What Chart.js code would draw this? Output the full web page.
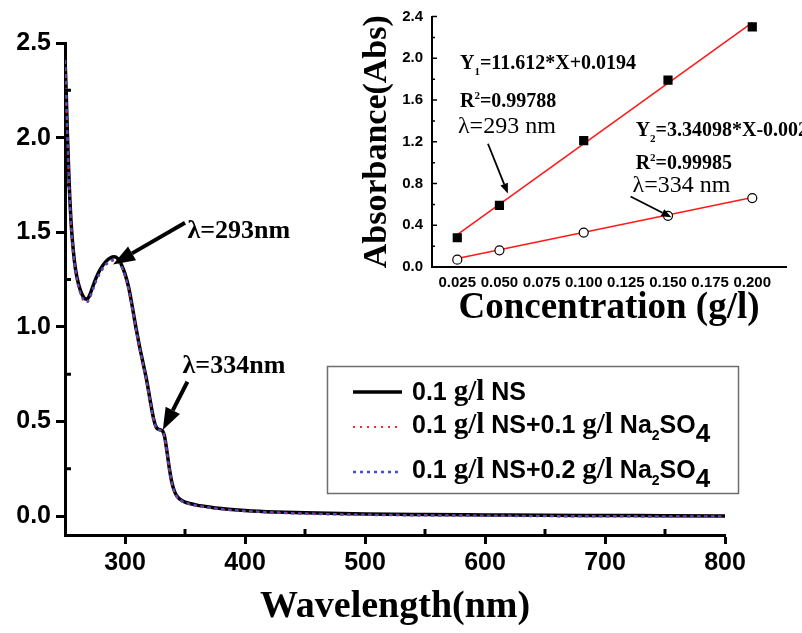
<!DOCTYPE html>
<html>
<head>
<meta charset="utf-8">
<script src="https://cdn.jsdelivr.net/npm/chart.js@4.4.1/dist/chart.umd.min.js"></script>
<style>
  html, body { margin: 0; padding: 0; background: #fff; }
  #wrap { position: relative; width: 802px; height: 633px; overflow: hidden; background: #fff; }
  #main { position: absolute; left: 0; top: 0; }
  #inset { position: absolute; left: 360px; top: 10px; }
</style>
</head>
<body>
<div id="wrap">
  <canvas id="main" width="802" height="633"></canvas>
  <canvas id="inset" width="442" height="322"></canvas>
</div>
<script>
// ---- UV-Vis spectra (absorbance vs wavelength) ----
const wavelength = [250,251,252,253,254,255,256,258,260,263,266,268,270,273,276,280,284,288,291,294,297,300,303,306,309,312,315,318,321,324,326,328,331,333,335,337,339,341,343,346,350,355,360,370,380,400,425,450,500,550,600,650,700,750,800];
const absNS = [2.42,2.24,2.02,1.84,1.68,1.56,1.47,1.34,1.26,1.19,1.152,1.146,1.16,1.21,1.26,1.31,1.345,1.365,1.37,1.36,1.33,1.28,1.21,1.11,1.00,0.90,0.81,0.72,0.61,0.51,0.47,0.458,0.452,0.42,0.34,0.25,0.18,0.135,0.108,0.088,0.074,0.065,0.058,0.048,0.040,0.030,0.022,0.017,0.011,0.008,0.006,0.004,0.003,0.002,0.001];
const absNSNa01 = [2.40,2.22,2.00,1.82,1.67,1.55,1.46,1.33,1.25,1.17,1.135,1.128,1.14,1.19,1.24,1.29,1.325,1.345,1.35,1.345,1.32,1.27,1.20,1.10,0.99,0.89,0.80,0.71,0.60,0.505,0.465,0.455,0.448,0.415,0.335,0.245,0.175,0.13,0.104,0.084,0.070,0.061,0.054,0.044,0.036,0.026,0.018,0.013,0.007,0.004,0.002,0.000,-0.001,-0.002,-0.003];
const absNSNa02 = [2.41,2.23,2.01,1.83,1.67,1.55,1.46,1.33,1.25,1.175,1.14,1.132,1.145,1.195,1.245,1.295,1.33,1.35,1.355,1.35,1.32,1.27,1.20,1.10,0.995,0.895,0.805,0.715,0.605,0.507,0.467,0.456,0.449,0.417,0.337,0.247,0.177,0.131,0.105,0.085,0.071,0.062,0.055,0.045,0.037,0.027,0.019,0.013,0.007,0.004,0.002,0.000,-0.001,-0.002,-0.003];
const seriesNames = ['0.1 g/l NS', '0.1 g/l NS+0.1 g/l Na2SO4', '0.1 g/l NS+0.2 g/l Na2SO4'];
const xTicksMain = [300,400,500,600,700,800];
const xMinorMain = [350,450,550,650,750];
const yTicksMain = [0,0.5,1,1.5,2,2.5];
const yMinorMain = [0.25,0.75,1.25,1.75,2.25];

// ---- calibration (absorbance vs concentration) ----
const concentration = [0.025,0.05,0.1,0.15,0.2];
const abs293 = [0.28,0.59,1.21,1.79,2.30];
const abs334 = [0.07,0.16,0.33,0.49,0.66];
const fit293 = { slope: 11.612, intercept: 0.0194 };
const fit334 = { slope: 3.34098, intercept: -0.002 };
const xTicksInset = [0.025,0.05,0.075,0.1,0.125,0.15,0.175,0.2];
const yTicksInset = [0,0.4,0.8,1.2,1.6,2.0,2.4];
const yMinorInset = [0.2,0.6,1.0,1.4,1.8,2.2];

const SANS = 'Liberation Sans, Arial, sans-serif';
const SERIF = 'Liberation Serif, Times New Roman, serif';

function pairs(xs, ys) { return xs.map((x, i) => ({ x, y: ys[i] })); }

function drawArrow(ctx, x1, y1, x2, y2, lw, headLen, headW) {
  const ang = Math.atan2(y2 - y1, x2 - x1);
  const bx = x2 - headLen * Math.cos(ang), by = y2 - headLen * Math.sin(ang);
  ctx.save();
  ctx.strokeStyle = '#000'; ctx.fillStyle = '#000'; ctx.lineWidth = lw; ctx.lineCap = 'butt';
  ctx.beginPath(); ctx.moveTo(x1, y1); ctx.lineTo(bx, by); ctx.stroke();
  ctx.beginPath();
  ctx.moveTo(x2, y2);
  ctx.lineTo(bx + headW * Math.sin(ang), by - headW * Math.cos(ang));
  ctx.lineTo(bx - headW * Math.sin(ang), by + headW * Math.cos(ang));
  ctx.closePath(); ctx.fill();
  ctx.restore();
}

// text made of runs with their own font and vertical shift
function drawRuns(ctx, x, y, runs) {
  ctx.save();
  ctx.fillStyle = '#000';
  ctx.textBaseline = 'alphabetic';
  ctx.textAlign = 'left';
  let cx = x;
  for (const r of runs) {
    ctx.font = r.f;
    ctx.fillText(r.t, cx, y + (r.dy || 0));
    cx += ctx.measureText(r.t).width + (r.gap || 0);
  }
  ctx.restore();
}

function minorTicks(ctx, scale, values, len, width, horizontal) {
  ctx.save();
  ctx.strokeStyle = '#000';
  ctx.lineWidth = width;
  ctx.beginPath();
  for (const v of values) {
    const p = scale.getPixelForValue(v);
    if (horizontal) { ctx.moveTo(p, scale.top); ctx.lineTo(p, scale.top - len); }
    else { ctx.moveTo(scale.right, p); ctx.lineTo(scale.right + len, p); }
  }
  ctx.stroke();
  ctx.restore();
}

// ---------- main spectrum ----------
const mainNotes = [
  { text: 'λ=293nm', at: [352, 1.47], tail: [350, 1.55], tip: [290, 1.33] },
  { text: 'λ=334nm', at: [348, 0.757], tail: [352, 0.71], tip: [331.5, 0.455] }
];

const mainDecor = {
  id: 'mainDecor',
  afterDraw(chart) {
    const ctx = chart.ctx;
    const xs = chart.scales.x, ys = chart.scales.y;
    minorTicks(ctx, xs, xMinorMain, 6, 3, true);
    minorTicks(ctx, ys, yMinorMain, 6, 3, false);

    for (const n of mainNotes) {
      drawArrow(ctx, xs.getPixelForValue(n.tail[0]), ys.getPixelForValue(n.tail[1]),
                xs.getPixelForValue(n.tip[0]), ys.getPixelForValue(n.tip[1]), 4, 22, 8);
      drawRuns(ctx, xs.getPixelForValue(n.at[0]), ys.getPixelForValue(n.at[1]),
               [{ t: n.text, f: 'bold 26px ' + SERIF }]);
    }

    // legend
    ctx.save();
    ctx.strokeStyle = '#6e6e6e';
    ctx.lineWidth = 1.5;
    ctx.strokeRect(327.5, 366.5, 411, 127);
    const ds = chart.data.datasets;
    const rows = [
      { y: 392, base: 400, runs: [
        { t: '0.1 ', f: 'bold 25px ' + SANS }, { t: 'g/l', f: 'bold 29px ' + SERIF }, { t: ' NS', f: 'bold 25px ' + SANS }] },
      { y: 427, base: 433, runs: [
        { t: '0.1 ', f: 'bold 25px ' + SANS }, { t: 'g/l', f: 'bold 29px ' + SERIF }, { t: ' NS+0.1 ', f: 'bold 25px ' + SANS },
        { t: 'g/l', f: 'bold 29px ' + SERIF }, { t: ' Na', f: 'bold 25px ' + SANS }, { t: '2', f: 'bold 14px ' + SANS, dy: 7 },
        { t: 'SO', f: 'bold 25px ' + SANS }, { t: '4', f: 'bold 26px ' + SANS, dy: 9 }] },
      { y: 472, base: 478, runs: [
        { t: '0.1 ', f: 'bold 25px ' + SANS }, { t: 'g/l', f: 'bold 29px ' + SERIF }, { t: ' NS+0.2 ', f: 'bold 25px ' + SANS },
        { t: 'g/l', f: 'bold 29px ' + SERIF }, { t: ' Na', f: 'bold 25px ' + SANS }, { t: '2', f: 'bold 14px ' + SANS, dy: 7 },
        { t: 'SO', f: 'bold 25px ' + SANS }, { t: '4', f: 'bold 26px ' + SANS, dy: 9 }] }
    ];
    rows.forEach((r, i) => {
      const d = ds[i];
      ctx.save();
      ctx.strokeStyle = d.borderColor;
      ctx.lineWidth = d.borderWidth;
      ctx.setLineDash(d.borderDash || []);
      ctx.beginPath(); ctx.moveTo(353, r.y); ctx.lineTo(402, r.y); ctx.stroke();
      ctx.restore();
      drawRuns(ctx, 412, r.base, r.runs);
    });
    ctx.restore();
  }
};

new Chart(document.getElementById('main'), {
  type: 'line',
  data: {
    datasets: [
      { label: seriesNames[0], data: pairs(wavelength, absNS), borderColor: '#000', borderWidth: 3.5, order: 3 },
      { label: seriesNames[1], data: pairs(wavelength, absNSNa01), borderColor: '#ff2a2a', borderWidth: 2, borderDash: [2, 5], order: 2 },
      { label: seriesNames[2], data: pairs(wavelength, absNSNa02), borderColor: '#4b4bc4', borderWidth: 2.5, borderDash: [3, 4], order: 1 }
    ]
  },
  options: {
    responsive: false,
    animation: false,
    devicePixelRatio: 1,
    layout: { padding: { left: 0, top: 43, right: 77, bottom: 7 } },
    elements: { point: { radius: 0 }, line: { cubicInterpolationMode: 'monotone' } },
    plugins: { legend: { display: false }, tooltip: { enabled: false } },
    scales: {
      x: {
        type: 'linear', min: 250, max: 800,
        afterBuildTicks: s => { s.ticks = xTicksMain.map(v => ({ value: v })); },
        afterFit: s => { s.height = 91; },
        border: { display: true, width: 3, color: '#000' },
        grid: { drawOnChartArea: false, drawTicks: true, tickLength: 9, tickWidth: 3, tickColor: '#000', color: '#000' },
        ticks: { color: '#000', font: { family: SANS, size: 25, weight: 'bold' }, padding: 4, maxRotation: 0, autoSkip: false,
                 callback: v => String(v) },
        title: { display: true, text: 'Wavelength(nm)', color: '#000', padding: 0,
                 font: { family: SERIF, size: 38, weight: 'bold', lineHeight: 1 } }
      },
      y: {
        type: 'linear', min: -0.1, max: 2.5,
        afterBuildTicks: s => { s.ticks = yTicksMain.map(v => ({ value: v })); },
        afterFit: s => { s.width = 65; },
        border: { display: true, width: 3, color: '#000' },
        grid: { drawOnChartArea: false, drawTicks: true, tickLength: 9, tickWidth: 3, tickColor: '#000', color: '#000' },
        ticks: { color: '#000', font: { family: SANS, size: 25, weight: 'bold' }, padding: 5, autoSkip: false,
                 callback: v => Number(v).toFixed(1) }
      }
    }
  },
  plugins: [mainDecor]
});

// ---------- calibration inset ----------
const insetNotes = [
  { at: [0.0266, 1.895], runs: [
    { t: 'Y', f: 'bold 20px ' + SERIF }, { t: '1', f: 'bold 11px ' + SERIF, dy: 6 }, { t: '=11.612*X+0.0194', f: 'bold 20px ' + SERIF }] },
  { at: [0.0266, 1.533], runs: [
    { t: 'R', f: 'bold 20px ' + SERIF }, { t: '2', f: 'bold 11px ' + SERIF, dy: -8 }, { t: '=0.99788', f: 'bold 20px ' + SERIF }] },
  { at: [0.0254, 1.286], runs: [{ t: 'λ=293 nm', f: '24px ' + SERIF }] },
  { at: [0.1308, 1.257], runs: [
    { t: 'Y', f: 'bold 20px ' + SERIF }, { t: '2', f: 'bold 11px ' + SERIF, dy: 6 }, { t: '=3.34098*X-0.0020', f: 'bold 20px ' + SERIF }] },
  { at: [0.1308, 0.943], runs: [
    { t: 'R', f: 'bold 20px ' + SERIF }, { t: '2', f: 'bold 11px ' + SERIF, dy: -8 }, { t: '=0.99985', f: 'bold 20px ' + SERIF }] },
  { at: [0.129, 0.714], runs: [{ t: 'λ=334 nm', f: '24px ' + SERIF }] }
];
const insetArrows = [
  { tail: [0.0432, 1.181], tip: [0.055, 0.705] },
  { tail: [0.1278, 0.676], tip: [0.152, 0.476] }
];

const insetDecor = {
  id: 'insetDecor',
  afterDraw(chart) {
    const ctx = chart.ctx;
    const xs = chart.scales.x, ys = chart.scales.y;
    // inward ticks on the absorbance axis
    ctx.save();
    ctx.strokeStyle = '#000'; ctx.lineWidth = 1.5;
    ctx.beginPath();
    for (const v of yTicksInset) { const p = ys.getPixelForValue(v); ctx.moveTo(ys.right, p); ctx.lineTo(ys.right + 5, p); }
    for (const v of yMinorInset) { const p = ys.getPixelForValue(v); ctx.moveTo(ys.right, p); ctx.lineTo(ys.right + 3, p); }
    ctx.stroke();
    ctx.restore();
    for (const a of insetArrows) {
      drawArrow(ctx, xs.getPixelForValue(a.tail[0]), ys.getPixelForValue(a.tail[1]),
                xs.getPixelForValue(a.tip[0]), ys.getPixelForValue(a.tip[1]), 1.8, 10, 4);
    }
    for (const n of insetNotes) {
      drawRuns(ctx, xs.getPixelForValue(n.at[0]), ys.getPixelForValue(n.at[1]), n.runs);
    }
  }
};

const fitEnds = [concentration[0], concentration[concentration.length - 1]];

new Chart(document.getElementById('inset'), {
  type: 'scatter',
  data: {
    datasets: [
      { label: 'fit 293 nm', type: 'line', data: fitEnds.map(c => ({ x: c, y: fit293.slope * c + fit293.intercept })),
        borderColor: '#ff1a1a', borderWidth: 1.6, pointRadius: 0, order: 3 },
      { label: 'fit 334 nm', type: 'line', data: fitEnds.map(c => ({ x: c, y: fit334.slope * c + fit334.intercept })),
        borderColor: '#ff1a1a', borderWidth: 1.6, pointRadius: 0, order: 3 },
      { label: 'λ=293 nm', data: pairs(concentration, abs293), pointStyle: 'rect', pointRadius: 6.5,
        backgroundColor: '#000', borderColor: '#000', borderWidth: 0, order: 1 },
      { label: 'λ=334 nm', data: pairs(concentration, abs334), pointStyle: 'circle', pointRadius: 4.5,
        backgroundColor: '#fff', borderColor: '#000', borderWidth: 1.2, order: 1 }
    ]
  },
  options: {
    responsive: false,
    animation: false,
    devicePixelRatio: 1,
    layout: { padding: { left: 0, top: 1, right: 16, bottom: 5 } },
    plugins: { legend: { display: false }, tooltip: { enabled: false } },
    scales: {
      x: {
        type: 'linear', min: 0.01, max: 0.22,
        afterBuildTicks: s => { s.ticks = xTicksInset.map(v => ({ value: v })); },
        afterFit: s => { s.height = 60; },
        border: { display: true, width: 2, color: '#000' },
        grid: { display: false, drawTicks: false },
        ticks: { color: '#000', font: { family: SANS, size: 15, weight: 'bold' }, padding: 7, maxRotation: 0, autoSkip: false,
                 callback: v => Number(v).toFixed(3) },
        title: { display: true, text: 'Concentration (g/l)', color: '#000', padding: 0,
                 font: { family: SERIF, size: 37, weight: 'bold', lineHeight: 1 } }
      },
      y: {
        type: 'linear', min: 0, max: 2.4,
        afterBuildTicks: s => { s.ticks = yTicksInset.map(v => ({ value: v })); },
        afterFit: s => { s.width = 72; s.paddingTop = 0; s.paddingBottom = 0; },
        border: { display: true, width: 2, color: '#000' },
        grid: { display: false, drawTicks: false },
        ticks: { color: '#000', font: { family: SANS, size: 15, weight: 'bold' }, padding: 9, autoSkip: false,
                 callback: v => Number(v).toFixed(1) },
        title: { display: true, text: 'Absorbance(Abs)', color: '#000', padding: 0,
                 font: { family: SERIF, size: 34, weight: 'bold', lineHeight: 1 } }
      }
    }
  },
  plugins: [insetDecor]
});
</script>
</body>
</html>
